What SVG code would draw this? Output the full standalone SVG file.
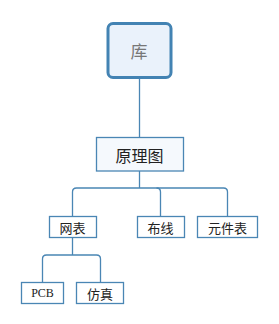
<svg xmlns="http://www.w3.org/2000/svg" width="279" height="324" viewBox="0 0 279 324">
<style>
.c{fill:none;stroke:#4A86B4;stroke-width:1.3}
.b{fill:#FFFFFF;stroke:#4A86B4;stroke-width:1.3}
.t{font-family:"Noto Sans CJK SC","Liberation Sans",sans-serif;fill:#222;text-anchor:middle;dominant-baseline:central}
</style>
<rect width="279" height="324" fill="#fff"/>
<g id="connectors">
<path class="c" d="M139.5 78V137"/>
<path class="c" d="M139.5 171V188"/>
<path class="c" d="M72.5 216V192Q72.5 188 76.5 188H156.5Q160.5 188 160.5 192V216"/>
<path class="c" d="M156.5 188H223.5Q227.5 188 227.5 192V216"/>
<path class="c" d="M72.5 237V255"/>
<path class="c" d="M42.5 282V259Q42.5 255 46.5 255H96.5Q100.5 255 100.5 259V282"/>
</g>
<g id="n-ku">
<rect x="108" y="23.5" width="63" height="54" rx="5" fill="#EAF2FB" stroke="#4383B3" stroke-width="3"/>
<text class="t" x="139" y="50" font-size="17" style="fill:#777">库</text>
</g>
<g id="n-yuanlitu">
<rect class="b" x="96.5" y="137.5" width="87" height="33.5" style="fill:#F5F9FD"/>
<text class="t" x="139.5" y="155" font-size="16">原理图</text>
</g>
<g id="n-wangbiao">
<rect class="b" x="49.5" y="216.5" width="47" height="21"/>
<text class="t" x="72.5" y="227" font-size="13">网表</text>
</g>
<g id="n-buxian">
<rect class="b" x="137.5" y="216.5" width="47" height="21"/>
<text class="t" x="160.5" y="227" font-size="13">布线</text>
</g>
<g id="n-yuanjianbiao">
<rect class="b" x="197.5" y="216.5" width="60" height="21"/>
<text class="t" x="227.5" y="227" font-size="13">元件表</text>
</g>
<g id="n-pcb">
<rect class="b" x="21.5" y="282.5" width="42" height="21"/>
<text class="t" x="42.5" y="293" font-size="12" style="font-family:'Liberation Serif','DejaVu Serif',serif">PCB</text>
</g>
<g id="n-fangzhen">
<rect class="b" x="76.5" y="282.5" width="47" height="21"/>
<text class="t" x="100" y="293" font-size="13">仿真</text>
</g>
</svg>
